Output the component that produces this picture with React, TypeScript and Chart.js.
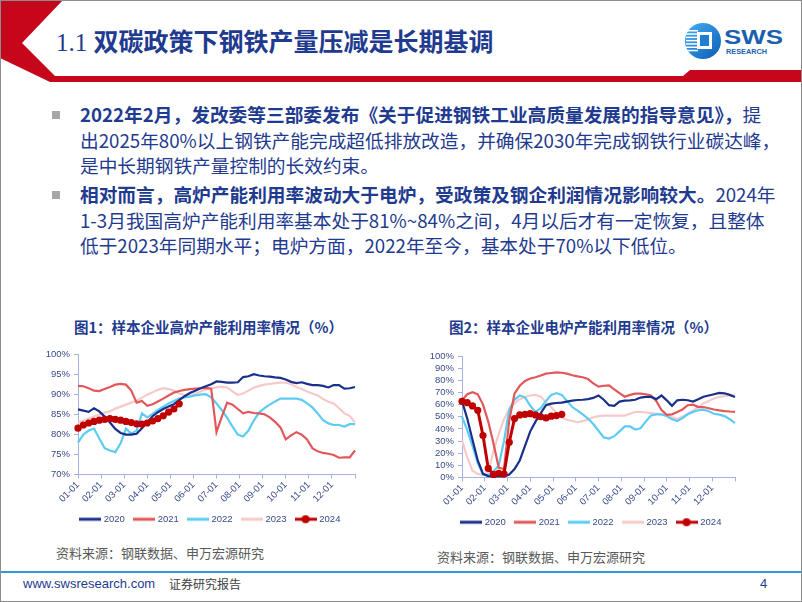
import React, { useEffect, useRef } from 'react';
import { Chart, registerables } from 'chart.js';

Chart.register(...registerables);

// ---------- data ----------
const YEARS = ['2020', '2021', '2022', '2023', '2024'];
const MONTH_TICKS = ['01-01', '02-01', '03-01', '04-01', '05-01', '06-01', '07-01', '08-01', '09-01', '10-01', '11-01', '12-01'];
const WEEKS_PER_YEAR = 52;

// Figure 1: blast furnace capacity utilisation (%), weekly
const BF_2020 = [86.3, 86.0, 85.7, 86.6, 85.8, 84.5, 83.0, 81.4, 80.4, 80.0, 80.0, 80.2, 81.6, 83.1, 84.6, 85.6, 86.4, 87.0, 87.6, 88.6, 89.6, 90.4, 91.0, 91.6, 92.1, 92.6, 93.3, 93.2, 93.0, 93.0, 93.1, 94.4, 94.6, 95.1, 94.8, 94.6, 94.5, 94.3, 94.2, 93.8, 93.2, 92.9, 93.1, 92.7, 92.4, 92.4, 92.2, 91.8, 92.4, 92.4, 91.5, 91.6, 91.9];
const BF_2021 = [92.2, 92.1, 91.6, 91.0, 90.9, 91.4, 91.9, 92.5, 92.7, 92.5, 91.0, 88.0, 88.4, 87.2, 87.6, 88.3, 89.0, 89.8, 90.5, 90.9, 91.2, 91.4, 91.5, 91.6, 91.7, 91.5, 80.6, 84.5, 88.0, 87.5, 86.4, 85.3, 85.7, 85.4, 85.3, 85.1, 84.3, 83.2, 81.8, 78.8, 79.8, 80.6, 80.0, 78.8, 76.6, 75.8, 75.4, 75.2, 74.9, 74.2, 74.3, 74.3, 76.0];
const BF_2022 = [78.0, 80.0, 81.0, 81.5, 79.0, 76.6, 76.0, 75.6, 77.8, 81.5, 80.2, 81.0, 85.3, 84.3, 85.2, 86.2, 87.0, 87.8, 88.4, 89.0, 89.3, 89.5, 89.8, 90.0, 90.1, 89.3, 87.8, 86.1, 84.2, 82.0, 80.0, 79.5, 81.0, 83.5, 85.5, 86.6, 87.5, 88.3, 89.0, 89.0, 89.0, 89.0, 88.7, 87.8, 86.8, 85.3, 83.6, 82.8, 82.4, 82.4, 82.0, 82.6, 82.6];
const BF_2023 = [83.0, 83.5, 84.0, 84.5, 85.0, 85.5, 85.8, 86.5, 87.0, 87.5, 88.0, 88.5, 89.2, 90.0, 90.6, 91.2, 91.6, 91.4, 91.0, 90.3, 89.9, 89.8, 90.2, 90.8, 91.3, 91.6, 91.8, 92.0, 91.8, 90.8, 89.9, 90.3, 91.0, 91.7, 92.2, 92.5, 92.7, 92.9, 93.0, 93.0, 92.6, 91.9, 91.4, 90.8, 90.3, 89.8, 88.9, 88.2, 87.8, 86.6, 85.3, 84.7, 83.0];
const BF_2024 = [81.6, 82.4, 82.9, 83.3, 83.6, 83.8, 84.0, 83.8, 83.6, 83.3, 83.0, 82.7, 82.6, 82.9, 83.4, 84.0, 84.7, 85.6, 86.4, 87.7];

// Figure 2: electric arc furnace capacity utilisation (%), weekly
const EAF_2020 = [63.0, 48.5, 31.0, 14.0, 3.0, 1.2, 1.0, 1.0, 1.0, 2.5, 7.0, 14.0, 26.0, 38.0, 46.0, 53.0, 59.5, 60.8, 61.3, 61.6, 62.5, 63.2, 63.8, 64.0, 64.5, 65.5, 67.5, 64.0, 59.5, 59.0, 62.5, 63.3, 63.5, 64.0, 65.8, 66.3, 66.3, 64.5, 67.5, 63.5, 59.0, 63.5, 64.0, 63.6, 62.5, 64.5, 66.5, 67.5, 68.5, 69.6, 69.3, 68.0, 66.3];
const EAF_2021 = [63.5, 68.5, 70.2, 68.5, 60.0, 46.0, 28.0, 8.0, 7.0, 47.0, 69.0, 75.5, 79.5, 81.5, 82.5, 84.0, 85.5, 86.0, 86.5, 86.2, 85.5, 84.2, 83.2, 82.5, 81.0, 77.5, 74.8, 75.5, 75.8, 72.5, 69.5, 66.5, 68.0, 69.0, 69.0, 68.5, 67.5, 63.0, 55.5, 51.5, 52.0, 54.0, 56.0, 59.5, 60.0, 58.0, 58.0, 57.0, 56.0, 55.2, 54.7, 54.3, 54.0];
const EAF_2022 = [50.0, 39.0, 26.0, 12.0, 2.5, 1.5, 5.0, 10.0, 30.0, 56.0, 64.0, 67.5, 66.0, 59.0, 54.0, 57.0, 63.0, 68.0, 69.5, 68.0, 63.0, 58.0, 55.0, 52.0, 48.5, 44.0, 38.5, 33.0, 32.0, 34.0, 38.0, 42.0, 42.0, 39.5, 40.5, 46.0, 51.0, 52.0, 52.0, 50.5, 48.0, 46.5, 49.0, 52.0, 54.0, 55.3, 55.8, 54.5, 52.5, 51.7, 50.5, 48.0, 44.8];
const EAF_2023 = [30.5, 16.5, 5.5, 3.0, 2.2, 4.0, 22.0, 36.0, 48.0, 56.0, 61.0, 64.5, 66.3, 67.5, 68.0, 66.5, 62.0, 58.0, 53.0, 49.5, 47.5, 46.5, 45.5, 46.5, 47.5, 49.5, 50.5, 51.0, 51.0, 51.0, 51.0, 51.0, 52.5, 53.9, 54.0, 53.5, 53.0, 52.5, 52.0, 51.0, 49.5, 48.3, 50.0, 52.5, 55.0, 58.0, 61.0, 63.0, 65.0, 66.3, 67.0, 67.5, 67.5];
const EAF_2024 = [62.7, 61.6, 58.9, 55.3, 34.5, 7.5, 2.5, 3.5, 3.0, 29.0, 48.5, 51.5, 52.0, 52.5, 51.5, 50.0, 49.0, 50.5, 51.0, 52.0];

// ---------- styles ----------
const COLORS = ['#1A2F8A', '#E2585A', '#5DCCF3', '#F7CACA', '#C00000'];
const AXIS = '#A3B2DE';
const LABEL = '#3A4A8A';
const FONT = '"Liberation Sans", Arial, sans-serif';
const BLUE = '#1F3B8F';
const CJK = '"Noto Sans CJK SC", sans-serif';

function makeIcon(color: string, dot: boolean) {
  const c = document.createElement('canvas');
  c.width = 22;
  c.height = 10;
  const ctx = c.getContext('2d')!;
  ctx.strokeStyle = color;
  ctx.lineWidth = 3;
  ctx.beginPath();
  ctx.moveTo(0, 5);
  ctx.lineTo(22, 5);
  ctx.stroke();
  if (dot) {
    ctx.fillStyle = color;
    ctx.beginPath();
    ctx.arc(11, 5, 4, 0, Math.PI * 2);
    ctx.fill();
  }
  return c;
}

type Props = {
  series: number[][];
  yMin: number;
  yMax: number;
  yStep: number;
  left: number;
  top: number;
  width: number;
  height: number;
  pad: { top: number; left: number; right: number; bottom: number };
  yW: number;
  xH: number;
  legendLeft: number;
};

function LineChart(p: Props) {
  const ref = useRef<HTMLCanvasElement>(null);
  useEffect(() => {
    const icons = YEARS.map((_, i) => makeIcon(COLORS[i], i === 4));
    const font = { family: FONT, size: 9.5 };
    const datasets = p.series.map((vals, i) => ({
      label: YEARS[i],
      data: vals.map((v, k) => ({ x: (k * 12) / WEEKS_PER_YEAR, y: v })),
      borderColor: COLORS[i],
      backgroundColor: COLORS[i],
      borderWidth: i === 4 ? 3 : 2.2,
      pointRadius: i === 4 ? 3.6 : 0,
      pointHoverRadius: 0,
      pointBackgroundColor: COLORS[i],
      pointBorderWidth: 0,
      tension: 0,
      fill: false,
      order: i === 4 ? 0 : i + 1,
      clip: 8,
    }));
    const legendShift = {
      id: 'legendShift',
      afterLayout(chart: any) {
        const lg = chart.legend;
        if (lg) {
          const w = lg.right - lg.left;
          lg.left = p.legendLeft;
          lg.right = p.legendLeft + w;
        }
      },
    };
    const chart = new Chart(ref.current!, {
      type: 'line',
      data: { datasets } as any,
      plugins: [legendShift],
      options: {
        animation: false,
        responsive: false,
        maintainAspectRatio: false,
        devicePixelRatio: 1,
        layout: { padding: p.pad },
        plugins: {
          tooltip: { enabled: false },
          legend: {
            position: 'bottom',
            align: 'start',
            labels: {
              usePointStyle: true,
              pointStyleWidth: 18,
              boxHeight: 10,
              padding: 10,
              color: LABEL,
              font,
              generateLabels: (ch: any) =>
                ch.data.datasets.map((ds: any, i: number) => ({
                  text: ds.label,
                  pointStyle: icons[i],
                  datasetIndex: i,
                  hidden: false,
                  fillStyle: COLORS[i],
                  strokeStyle: COLORS[i],
                  lineWidth: 0,
                  fontColor: LABEL,
                })),
            },
          },
        },
        scales: {
          x: {
            type: 'linear',
            min: 0,
            max: 12,
            afterFit: (s: any) => {
              s.height = p.xH;
            },
            ticks: {
              stepSize: 1,
              autoSkip: false,
              minRotation: 45,
              maxRotation: 45,
              padding: 1,
              color: LABEL,
              font,
              callback: (v: any) => MONTH_TICKS[v] ?? '',
            },
            grid: { display: true, drawOnChartArea: false, drawTicks: true, tickLength: 4, color: AXIS },
            border: { display: true, color: AXIS, width: 1 },
          },
          y: {
            min: p.yMin,
            max: p.yMax,
            afterFit: (s: any) => {
              s.width = p.yW;
            },
            ticks: {
              stepSize: p.yStep,
              autoSkip: false,
              padding: 4,
              color: LABEL,
              font,
              callback: (v: any) => v + '%',
            },
            grid: { display: true, drawOnChartArea: false, drawTicks: true, tickLength: 4, color: AXIS },
            border: { display: true, color: AXIS, width: 1 },
          },
        },
      } as any,
    });
    return () => chart.destroy();
  }, []);
  return (
    <canvas
      ref={ref}
      width={p.width}
      height={p.height}
      style={{ position: 'absolute', left: p.left, top: p.top, width: p.width, height: p.height }}
    />
  );
}

const abs = (left: number, top: number, extra: React.CSSProperties = {}): React.CSSProperties => ({
  position: 'absolute',
  left,
  top,
  whiteSpace: 'nowrap',
  ...extra,
});

export default function App() {
  const body: React.CSSProperties = { fontSize: 18.7, lineHeight: '25.5px', color: BLUE, fontFamily: CJK };
  return (
    <div
      style={{
        position: 'fixed',
        left: 0,
        top: 0,
        width: 802,
        height: 602,
        overflow: 'hidden',
        background: '#fff',
        fontFamily: CJK,
      }}
    >
      <svg width={802} height={602} style={{ position: 'absolute', left: 0, top: 0 }}>
        <polygon points="0,0 63,0 22,43 55,76 683,76 690,70 802,70 802,82 50,82 0,58" fill="#C5061B" />
        <defs>
          <linearGradient id="lg" x1="0" y1="0" x2="1" y2="1">
            <stop offset="0" stopColor="#45B0F5" />
            <stop offset="1" stopColor="#0B5BB5" />
          </linearGradient>
        </defs>
        <circle cx={703} cy={41} r={18} fill="url(#lg)" />
        {[0, 1, 2, 3, 4, 5, 6].map((i) => (
          <rect key={i} x={686} y={30 + i * 3.3} width={12} height={1.5} fill="#fff" />
        ))}
        <rect x={697} y={32} width={15} height={17} fill="#fff" />
        <rect x={700} y={35} width={9} height={11} fill="#1E7FD0" />
        <text x={724} y={44} fontSize={21} fontWeight="bold" fill="#1B5FAF" fontFamily={FONT} textLength={59} lengthAdjust="spacingAndGlyphs">
          SWS
        </text>
        <text x={726} y={53.5} fontSize={7.5} fontWeight="bold" fill="#1B5FAF" fontFamily={FONT} textLength={41} lengthAdjust="spacingAndGlyphs">
          RESEARCH
        </text>
        <rect x={0} y={571} width={802} height={2} fill="#2E9BD3" />
      </svg>

      <div style={abs(56, 28, { fontSize: 25, lineHeight: '30px', color: BLUE, fontWeight: 700, fontFamily: '"Liberation Serif", "Noto Sans CJK SC", serif' })}>
        <span style={{ fontWeight: 400 }}>1.1 </span>双碳政策下钢铁产量压减是长期基调
      </div>

      <div style={abs(52, 111, { width: 8, height: 8, background: '#A6A6A6' })} />
      <div style={abs(80, 101, body)}>
        <div>
          <b>2022年2月，发改委等三部委发布《关于促进钢铁工业高质量发展的指导意见》，</b>提
        </div>
        <div>出2025年80%以上钢铁产能完成超低排放改造，并确保2030年完成钢铁行业碳达峰，</div>
        <div>是中长期钢铁产量控制的长效约束。</div>
      </div>

      <div style={abs(52, 191, { width: 8, height: 8, background: '#A6A6A6' })} />
      <div style={abs(80, 181, body)}>
        <div>
          <b>相对而言，高炉产能利用率波动大于电炉，受政策及钢企利润情况影响较大。</b>2024年
        </div>
        <div>1-3月我国高炉产能利用率基本处于81%~84%之间，4月以后才有一定恢复，且整体</div>
        <div>低于2023年同期水平；电炉方面，2022年至今，基本处于70%以下低位。</div>
      </div>

      <div style={abs(74, 317, { fontSize: 14.5, lineHeight: '20px', fontWeight: 700, color: BLUE })}>
        图1：样本企业高炉产能利用率情况（%）
      </div>
      <div style={abs(449, 317, { fontSize: 14.5, lineHeight: '20px', fontWeight: 700, color: BLUE })}>
        图2：样本企业电炉产能利用率情况（%）
      </div>

      <LineChart
        series={[BF_2020, BF_2021, BF_2022, BF_2023, BF_2024]}
        yMin={70}
        yMax={100}
        yStep={5}
        left={35}
        top={345}
        width={335}
        height={189}
        pad={{ top: 9, left: 0, right: 15, bottom: 0 }}
        yW={43}
        xH={30}
        legendLeft={36}
      />
      <LineChart
        series={[EAF_2020, EAF_2021, EAF_2022, EAF_2023, EAF_2024]}
        yMin={0}
        yMax={100}
        yStep={10}
        left={420}
        top={346}
        width={330}
        height={191}
        pad={{ top: 10, left: 0, right: 15, bottom: 0 }}
        yW={42}
        xH={30}
        legendLeft={32}
      />

      <div style={abs(56, 544, { fontSize: 13, lineHeight: '18px', color: '#595959' })}>资料来源：钢联数据、申万宏源研究</div>
      <div style={abs(437, 548, { fontSize: 13, lineHeight: '18px', color: '#595959' })}>资料来源：钢联数据、申万宏源研究</div>

      <div style={abs(23, 576, { fontSize: 13, lineHeight: '16px', color: BLUE, fontFamily: FONT })}>www.swsresearch.com</div>
      <div style={abs(169, 576, { fontSize: 12, lineHeight: '16px', color: '#404040' })}>证券研究报告</div>
      <div style={abs(760, 576, { fontSize: 13, lineHeight: '16px', color: BLUE, fontFamily: FONT })}>4</div>

      <div
        style={{
          position: 'absolute',
          left: 0,
          top: 0,
          width: 802,
          height: 602,
          boxSizing: 'border-box',
          border: '1px solid #8C8C8C',
          pointerEvents: 'none',
        }}
      />
    </div>
  );
}
